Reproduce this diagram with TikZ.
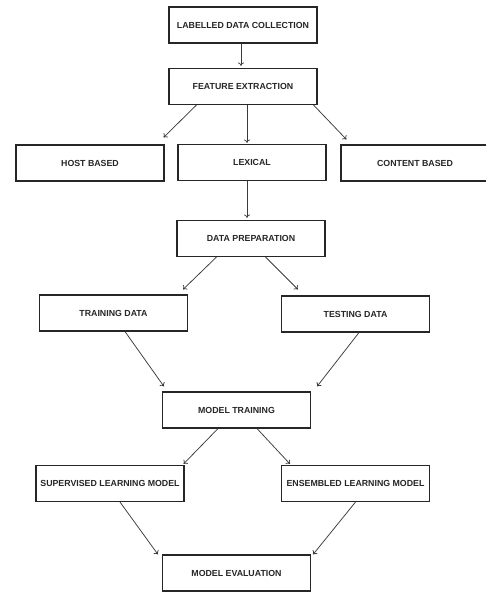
\documentclass[tikz,border=0pt]{standalone}
\usepackage{fontspec}
\setmainfont{Liberation Sans}
\usepackage{tikz, xcolor}
\usetikzlibrary{arrows.meta}

\definecolor{boxline}{HTML}{262626}
\definecolor{arrowline}{HTML}{3A3A3A}

\begin{document}
\begin{tikzpicture}
					[
						x=1pt, y=-1pt,
						stagebox/.style={draw=boxline, line width=1.1pt, minimum width=148pt, minimum height=36pt, inner sep=0pt, font=\fontsize{8.8}{10}\selectfont\bfseries, text=black!85},
						flow/.style={-{To[length=3.5pt,width=6pt]}, arrowline, line width=0.75pt}
					]
					
					% Fix the page.
					\useasboundingbox (0,0) rectangle (486,593);
					
					% Draw stages.
					\node[stagebox] (ldc) at (243,25) {LABELLED DATA COLLECTION};
					\node[stagebox] (fe) at (243,86.5) {FEATURE EXTRACTION};
					\node[stagebox] (host) at (90,163) {HOST BASED};
					\node[stagebox] (lex) at (252,162.5) {LEXICAL};
					\node[stagebox] (cont) at (415,163) {CONTENT BASED};
					\node[stagebox] (dp) at (251,238.5) {DATA PREPARATION};
					\node[stagebox] (train) at (113.5,313) {TRAINING DATA};
					\node[stagebox] (test) at (355.5,314) {TESTING DATA};
					\node[stagebox] (mt) at (236.5,410) {MODEL TRAINING};
					\node[stagebox] (slm) at (110,483.5) {SUPERVISED LEARNING MODEL};
					\node[stagebox] (elm) at (355.5,483.5) {ENSEMBLED LEARNING MODEL};
					\node[stagebox] (me) at (236.5,573) {MODEL EVALUATION};
					
					% Draw arrows between stages.
					\draw[flow] ([xshift=-2pt]ldc.south) -- ([xshift=-2pt,yshift=2pt]fe.north);
					\draw[flow] ([xshift=28pt]fe.south west) -- ([xshift=-1pt,yshift=7pt]host.north east);
					\draw[flow] ([xshift=4pt]fe.south) -- ([xshift=-5pt,yshift=1pt]lex.north);
					\draw[flow] ([xshift=-4pt]fe.south east) -- ([xshift=6pt,yshift=5pt]cont.north west);
					\draw[flow] ([xshift=-5pt]lex.south) -- ([xshift=-4pt,yshift=2pt]dp.north);
					\draw[flow] ([xshift=40pt]dp.south west) -- ([xshift=-5pt,yshift=5pt]train.north east);
					\draw[flow] ([xshift=-60pt]dp.south east) -- ([xshift=17pt,yshift=6pt]test.north west);
					\draw[flow] ([xshift=11.5pt]train.south) -- ([xshift=2pt,yshift=5pt]mt.north west);
					\draw[flow] ([xshift=3.5pt]test.south) -- ([xshift=6pt,yshift=5pt]mt.north east);
					\draw[flow] ([xshift=-18.5pt]mt.south) -- ([xshift=-1pt,yshift=1pt]slm.north east);
					\draw[flow] ([xshift=20.5pt]mt.south) -- ([xshift=9pt,yshift=1pt]elm.north west);
					\draw[flow] ([xshift=10pt]slm.south) -- ([xshift=-4pt]me.north west);
					\draw[flow] (elm.south) -- ([xshift=2pt]me.north east);
				\end{tikzpicture}
\end{document}
